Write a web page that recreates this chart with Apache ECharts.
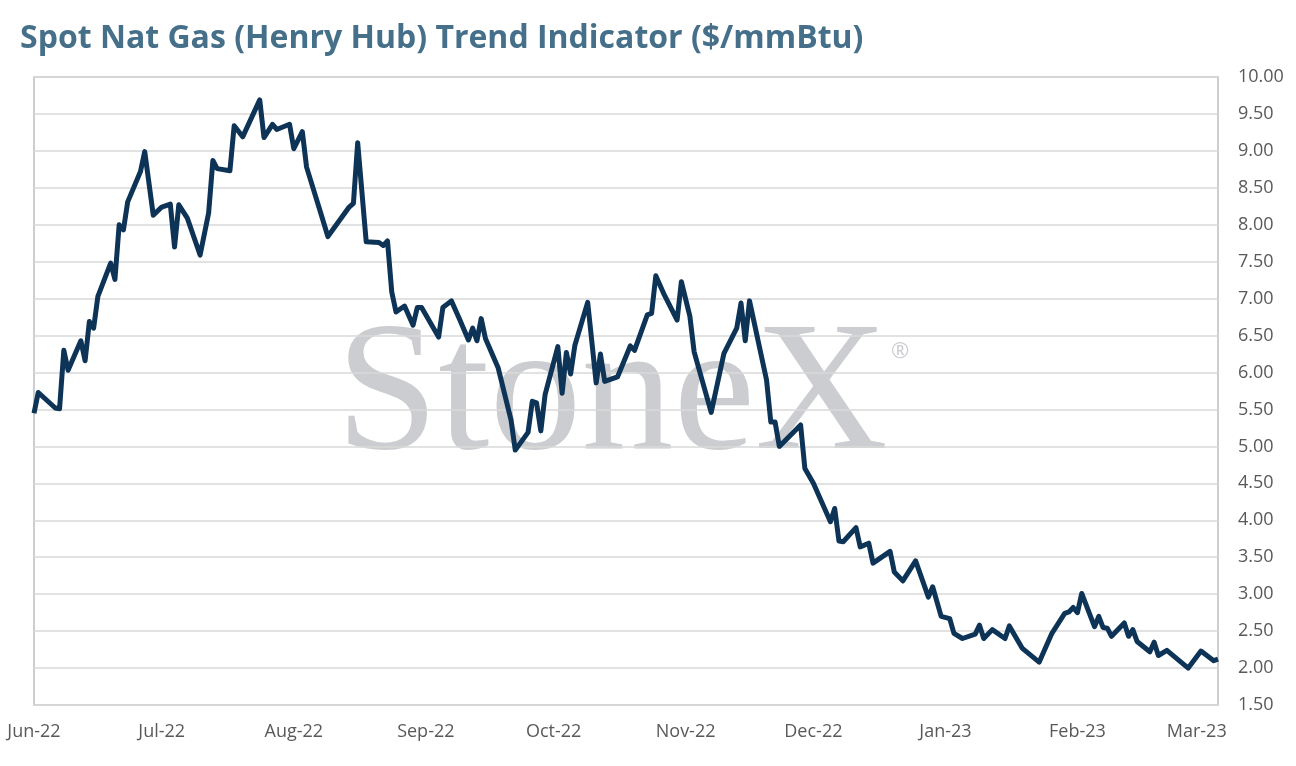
<!DOCTYPE html>
<html>
<head>
<meta charset="utf-8">
<script src="https://cdn.jsdelivr.net/npm/echarts@6/dist/echarts.min.js"></script>
<style>
  html, body { margin: 0; padding: 0; background: #fff; }
  #chart { width: 1296px; height: 766px; }
</style>
</head>
<body>
<div id="chart"></div>
<script>
// spot price readings, $/mmBtu
var dates = [
  "2022-06-01", "2022-06-02", "2022-06-06", "2022-06-07", "2022-06-08", "2022-06-09",
  "2022-06-12", "2022-06-13", "2022-06-14", "2022-06-15", "2022-06-16", "2022-06-19",
  "2022-06-20", "2022-06-21", "2022-06-22", "2022-06-23", "2022-06-26", "2022-06-27",
  "2022-06-29", "2022-07-01", "2022-07-03", "2022-07-04", "2022-07-05", "2022-07-07",
  "2022-07-10", "2022-07-12", "2022-07-13", "2022-07-14", "2022-07-17", "2022-07-18",
  "2022-07-20", "2022-07-24", "2022-07-25", "2022-07-27", "2022-07-28", "2022-07-31",
  "2022-08-01", "2022-08-03", "2022-08-04", "2022-08-07", "2022-08-09", "2022-08-14",
  "2022-08-15", "2022-08-16", "2022-08-18", "2022-08-21", "2022-08-22", "2022-08-23",
  "2022-08-24", "2022-08-25", "2022-08-27", "2022-08-29", "2022-08-30", "2022-08-31",
  "2022-09-04", "2022-09-05", "2022-09-07", "2022-09-09", "2022-09-11", "2022-09-12",
  "2022-09-13", "2022-09-14", "2022-09-15", "2022-09-18", "2022-09-21", "2022-09-22",
  "2022-09-25", "2022-09-26", "2022-09-27", "2022-09-28", "2022-09-29", "2022-10-02",
  "2022-10-03", "2022-10-04", "2022-10-05", "2022-10-06", "2022-10-09", "2022-10-11",
  "2022-10-12", "2022-10-13", "2022-10-16", "2022-10-19", "2022-10-20", "2022-10-23",
  "2022-10-24", "2022-10-25", "2022-10-27", "2022-10-30", "2022-10-31", "2022-11-02",
  "2022-11-03", "2022-11-07", "2022-11-10", "2022-11-13", "2022-11-14", "2022-11-15",
  "2022-11-16", "2022-11-20", "2022-11-21", "2022-11-22", "2022-11-23", "2022-11-28",
  "2022-11-29", "2022-12-01", "2022-12-05", "2022-12-06", "2022-12-07", "2022-12-08",
  "2022-12-11", "2022-12-12", "2022-12-14", "2022-12-15", "2022-12-19", "2022-12-20",
  "2022-12-22", "2022-12-25", "2022-12-28", "2022-12-29", "2022-12-31", "2023-01-02",
  "2023-01-03", "2023-01-05", "2023-01-08", "2023-01-09", "2023-01-10", "2023-01-12",
  "2023-01-15", "2023-01-16", "2023-01-19", "2023-01-23", "2023-01-26", "2023-01-29",
  "2023-01-30", "2023-01-31", "2023-02-01", "2023-02-02", "2023-02-05", "2023-02-06",
  "2023-02-07", "2023-02-08", "2023-02-09", "2023-02-12", "2023-02-13", "2023-02-14",
  "2023-02-15", "2023-02-18", "2023-02-19", "2023-02-20", "2023-02-22", "2023-02-27",
  "2023-03-02", "2023-03-05", "2023-03-06"
];
var prices = [
  5.45, 5.73, 5.52, 5.51, 6.30, 6.03,
  6.43, 6.16, 6.69, 6.60, 7.03, 7.48,
  7.26, 8.00, 7.93, 8.31, 8.72, 8.99,
  8.13, 8.24, 8.28, 7.70, 8.27, 8.09,
  7.59, 8.16, 8.87, 8.76, 8.73, 9.34,
  9.19, 9.69, 9.18, 9.36, 9.29, 9.36,
  9.03, 9.26, 8.78, 8.22, 7.84, 8.24,
  8.29, 9.11, 7.77, 7.76, 7.72, 7.78,
  7.09, 6.82, 6.90, 6.64, 6.88, 6.88,
  6.48, 6.88, 6.97, 6.71, 6.44, 6.60,
  6.43, 6.73, 6.46, 6.06, 5.36, 4.95,
  5.19, 5.61, 5.59, 5.21, 5.70, 6.35,
  5.72, 6.27, 5.98, 6.37, 6.95, 5.86,
  6.25, 5.88, 5.94, 6.36, 6.30, 6.78,
  6.80, 7.31, 7.05, 6.71, 7.23, 6.76,
  6.28, 5.46, 6.26, 6.60, 6.94, 6.43,
  6.97, 5.90, 5.33, 5.33, 5.00, 5.29,
  4.70, 4.50, 3.98, 4.16, 3.72, 3.71,
  3.90, 3.64, 3.69, 3.42, 3.58, 3.30,
  3.18, 3.45, 2.96, 3.10, 2.70, 2.67,
  2.47, 2.40, 2.46, 2.58, 2.40, 2.52,
  2.40, 2.57, 2.27, 2.08, 2.47, 2.74,
  2.76, 2.82, 2.75, 3.01, 2.56, 2.70,
  2.55, 2.54, 2.43, 2.61, 2.43, 2.52,
  2.36, 2.22, 2.35, 2.17, 2.24, 2.00,
  2.23, 2.10, 2.12
];
var xStart = "2022-06-01";
var xEnd = "2023-03-06";

var seriesData = dates.map(function (d, i) { return [d, prices[i]]; });

var myChart = echarts.init(document.getElementById("chart"));
var option = {
  animation: false,
  backgroundColor: "#fff",
  title: {
    text: "Spot Nat Gas (Henry Hub) Trend Indicator ($/mmBtu)",
    left: 15,
    top: 18,
    textStyle: {
      color: "#46708a",
      fontFamily: "Open Sans",
      fontWeight: "bold",
      fontSize: 32,
    },
  },
  grid: {
    left: 34,
    right: 78,
    top: 77,
    bottom: 61,
    show: true,
    borderColor: "#bfbfbf",
    borderWidth: 1.5,
  },
  graphic: [
    {
      type: "text",
      z: 0,
      silent: true,
      style: {
        x: 336,
        y: 400,
        text: "StoneX",
        font: "184px 'Liberation Serif'",
        fill: "#cbcdd0",
        verticalAlign: "middle",
      },
    },
    {
      type: "text",
      z: 0,
      silent: true,
      style: {
        x: 891,
        y: 352,
        text: "®",
        font: "22px 'Open Sans'",
        fill: "#cbcdd0",
        verticalAlign: "middle",
      },
    },
  ],
  xAxis: {
    type: "time",
    min: xStart,
    max: xEnd,
    splitNumber: 10,
    minInterval: 28 * 86400000,
    maxInterval: 31 * 86400000,
    axisLine: { show: false },
    axisTick: { show: false },
    splitLine: { show: false },
    axisLabel: {
      showMinLabel: true,
      color: "#595959",
      fontFamily: "Open Sans",
      fontSize: 18,
      margin: 18,
      formatter: function (v) {
        return echarts.time.format(v, "{MMM}-{yy}", false);
      },
    },
  },
  yAxis: {
    type: "value",
    position: "right",
    min: 1.5,
    max: 10,
    interval: 0.5,
    axisLine: { show: false },
    axisTick: { show: false },
    splitLine: { lineStyle: { color: "#d9d9d9", width: 1.5 } },
    axisLabel: {
      color: "#595959",
      fontFamily: "Open Sans",
      fontSize: 18,
      margin: 20,
      formatter: function (v) { return v.toFixed(2); },
    },
  },
  series: [
    {
      type: "line",
      data: seriesData,
      z: 5,
      showSymbol: false,
      lineStyle: { color: "#0d3357", width: 5, join: "round" },
    },
  ],
};
myChart.setOption(option);
</script>
</body>
</html>
